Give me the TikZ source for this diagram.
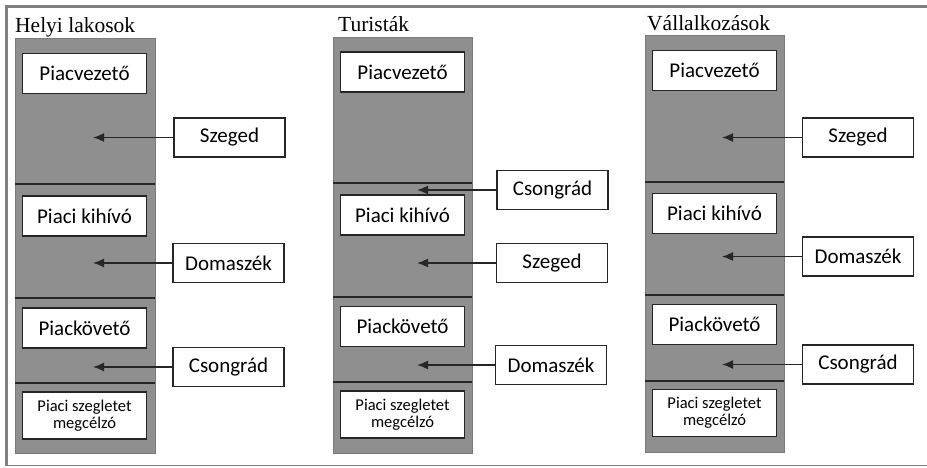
\documentclass[tikz,border=0pt]{standalone}
\usepackage{fontspec}
\setmainfont{Liberation Serif}
\newfontfamily\boxfont{Carlito}
\usetikzlibrary{arrows.meta}
\definecolor{colgray}{HTML}{8F8F8F}
\definecolor{framegray}{HTML}{808080}
\definecolor{darkline}{HTML}{262626}
\tikzset{
  colbox/.style={fill=colgray, draw=colgray!85!black, line width=0.8pt},
  catbox/.style={draw=darkline, fill=white, line width=1.8pt, minimum width=124pt, minimum height=40pt, inner sep=0pt, font=\boxfont\fontsize{21}{23}\selectfont},
  smallbox/.style={catbox, minimum height=47pt, align=center, font=\boxfont\fontsize{16.5}{17}\selectfont},
  citybox/.style={draw=darkline, fill=white, line width=1.5pt, minimum width=111pt, minimum height=39pt, inner sep=0pt, font=\boxfont\fontsize{21}{23}\selectfont},
  divider/.style={draw=darkline, line width=2pt},
  pointer/.style={draw=darkline, line width=1.6pt, -{Latex[length=11pt,width=9pt]}},
  coltitle/.style={anchor=base west, inner sep=0pt, font=\fontsize{21.5}{23}\selectfont}
}
\begin{document}
\begin{tikzpicture}[x=1pt,y=-1pt]
\useasboundingbox (0,0) rectangle (927,467);
\fill[white] (0,0) rectangle (927,467);
% frame
\draw[framegray, line width=3pt] (5,6.5) -- (927,6.5);
\draw[framegray, line width=3pt] (6.5,5) -- (6.5,466);
\draw[framegray, line width=1.5pt] (5,465.5) -- (927,465.5);

% ===== Column 1 =====
\node[coltitle] (t1) at (15,32) {Helyi lakosok};
\draw[colbox] (15,38) rectangle (155,453);
\draw[divider] (15,184) -- (155,184);
\draw[divider] (15,298) -- (155,298);
\draw[divider] (15,383) -- (155,383);
\node[catbox] (a1) at (84.5,73.5) {Piacvezető};
\node[catbox] (a2) at (84.5,216) {Piaci kihívó};
\node[catbox] (a3) at (84.5,328) {Piackövető};
\node[smallbox] (a4) at (84.5,415.5) {Piaci szegletet\\megcélzó};
\node[citybox] (s1) at (229.5,137.5) {Szeged};
\node[citybox] (d1) at (228.5,263) {Domaszék};
\node[citybox] (c1) at (228.5,367) {Csongrád};
\coordinate (ps1) at (93,137.5);
\coordinate (pd1) at (93,263);
\coordinate (pc1) at (93,367);
\draw[pointer] (s1.west) -- (ps1);
\draw[pointer] (d1.west) -- (pd1);
\draw[pointer] (c1.west) -- (pc1);

% ===== Column 2 =====
\node[coltitle] (t2) at (338,31) {Turisták};
\draw[colbox] (333,37) rectangle (472,453);
\draw[divider] (333,183) -- (472,183);
\draw[divider] (333,297) -- (472,297);
\draw[divider] (333,382) -- (472,382);
\node[catbox] (b1) at (402.5,72) {Piacvezető};
\node[catbox] (b2) at (402.5,215) {Piaci kihívó};
\node[catbox] (b3) at (402.5,326.5) {Piackövető};
\node[smallbox] (b4) at (402.5,414.5) {Piaci szegletet\\megcélzó};
\node[citybox] (c2) at (552.5,190) {Csongrád};
\node[citybox] (s2) at (552,263) {Szeged};
\node[citybox] (d2) at (551,365) {Domaszék};
\coordinate (pc2) at (417,190);
\coordinate (ps2) at (417,263);
\coordinate (pd2) at (417,365);
\draw[pointer] (c2.west) -- (pc2);
\draw[pointer] (s2.west) -- (ps2);
\draw[pointer] (d2.west) -- (pd2);

% ===== Column 3 =====
\node[coltitle] (t3) at (647,30) {Vállalkozások};
\draw[colbox] (645,35) rectangle (784,452);
\draw[divider] (645,182) -- (784,182);
\draw[divider] (645,295) -- (784,295);
\draw[divider] (645,381) -- (784,381);
\node[catbox] (e1) at (714.5,70.5) {Piacvezető};
\node[catbox] (e2) at (714.5,213.5) {Piaci kihívó};
\node[catbox] (e3) at (714.5,324.5) {Piackövető};
\node[smallbox] (e4) at (714.5,413) {Piaci szegletet\\megcélzó};
\node[citybox] (s3) at (858,137.5) {Szeged};
\node[citybox] (d3) at (858,256.5) {Domaszék};
\node[citybox] (c3) at (858,364.5) {Csongrád};
\coordinate (ps3) at (722,137.5);
\coordinate (pd3) at (722,256.5);
\coordinate (pc3) at (722,364.5);
\draw[pointer] (s3.west) -- (ps3);
\draw[pointer] (d3.west) -- (pd3);
\draw[pointer] (c3.west) -- (pc3);
\end{tikzpicture}
\end{document}
